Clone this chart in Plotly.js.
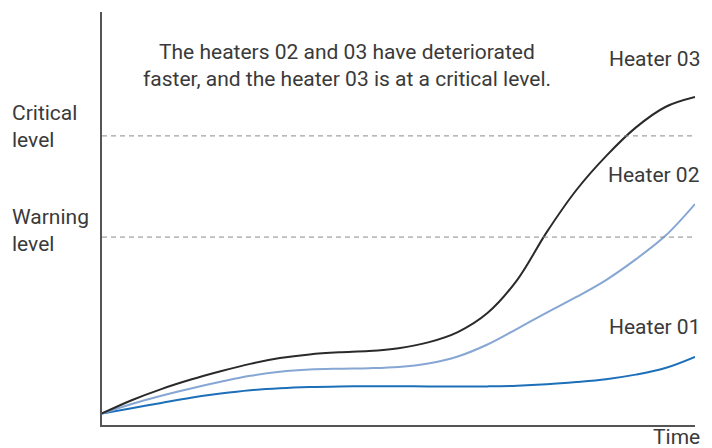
<!DOCTYPE html>
<html>
<head>
<meta charset="utf-8">
<script src="https://cdn.plot.ly/plotly-3.0.1.min.js"></script>
<style>html,body{margin:0;padding:0;background:#fff;}#chart{width:712px;height:448px;}</style>
</head>
<body>
<div id="chart"></div>
<script>
const time = [0, 5, 10, 15, 20, 25, 30, 35, 40, 45, 50, 55, 60, 65, 70, 75, 80, 85, 90, 95, 100];
const heater03 = [2.8, 6.0, 8.7, 11.0, 13.0, 14.8, 16.2, 17.1, 17.6, 17.9, 18.6, 20.0, 22.5, 27.1, 35.1, 46.7, 56.9, 65.1, 72.0, 77.0, 79.4];
const heater02 = [2.8, 5.1, 7.1, 8.85, 10.45, 11.9, 12.9, 13.45, 13.65, 13.75, 14.05, 14.9, 16.6, 19.5, 23.3, 27.2, 31.0, 35.1, 40.1, 45.8, 53.5];
const heater01 = [2.8, 4.05, 5.35, 6.6, 7.6, 8.4, 8.9, 9.2, 9.35, 9.4, 9.4, 9.35, 9.3, 9.35, 9.5, 9.85, 10.4, 11.1, 12.2, 13.8, 16.5];
const criticalLevel = 70;
const warningLevel = 45.5;
const seriesNames = ["Heater 01", "Heater 02", "Heater 03"];
const noteLines = ["The heaters 02 and 03 have deteriorated", "faster, and the heater 03 is at a critical level."];
const criticalLines = ["Critical", "level"];
const warningLines = ["Warning", "level"];
const xTitle = "Time";

const FONT = "Roboto, 'Noto Sans', sans-serif";
const TXT = "#3a3a3a";

const traces = [
  {x: time, y: heater01, name: seriesNames[0], mode: "lines", line: {color: "#1c6fb8", width: 2, shape: "spline", smoothing: 1}},
  {x: time, y: heater02, name: seriesNames[1], mode: "lines", line: {color: "#86a6d4", width: 2, shape: "spline", smoothing: 1}},
  {x: time, y: heater03, name: seriesNames[2], mode: "lines", line: {color: "#2a2a2a", width: 2, shape: "spline", smoothing: 1}}
];

function ann(text, x, y, xanchor) {
  return {text: text, xref: "paper", yref: "paper", x: x, y: y, xanchor: xanchor, yanchor: "middle",
    showarrow: false, font: {family: FONT, size: 21, color: TXT}, align: xanchor === "center" ? "center" : xanchor};
}

const annotations = [
  ann(noteLines[0], 0.413, 0.903, "center"),
  ann(noteLines[1], 0.413, 0.838, "center"),
  ann(criticalLines[0], -0.155, 0.755, "left"),
  ann(criticalLines[1], -0.155, 0.690, "left"),
  ann(warningLines[0], -0.155, 0.504, "left"),
  ann(warningLines[1], -0.155, 0.438, "left"),
  ann(seriesNames[2], 1.012, 0.886, "right"),
  ann(seriesNames[1], 1.012, 0.605, "right"),
  ann(seriesNames[0], 1.012, 0.237, "right"),
  ann(xTitle, 1.012, -0.029, "right")
];

const shapes = [criticalLevel, warningLevel].map(v => ({
  type: "line", xref: "x", yref: "y", x0: 0, x1: 100, y0: v, y1: v,
  line: {color: "#8a8a8a", width: 1, dash: "5px,4px"}
}));

const layout = {
  width: 712, height: 448,
  margin: {l: 102, r: 17, t: 12, b: 23, pad: 0},
  paper_bgcolor: "#ffffff", plot_bgcolor: "#ffffff",
  showlegend: false,
  xaxis: {range: [0, 100], showline: true, linecolor: "#555555", linewidth: 2, showgrid: false, zeroline: false,
    showticklabels: false, ticks: "", fixedrange: true},
  yaxis: {range: [0, 100], showline: true, linecolor: "#555555", linewidth: 2, showgrid: false, zeroline: false,
    showticklabels: false, ticks: "", fixedrange: true},
  annotations: annotations,
  shapes: shapes,
  font: {family: FONT, color: TXT}
};

Plotly.newPlot("chart", traces, layout, {displayModeBar: false, staticPlot: true});
</script>
</body>
</html>
